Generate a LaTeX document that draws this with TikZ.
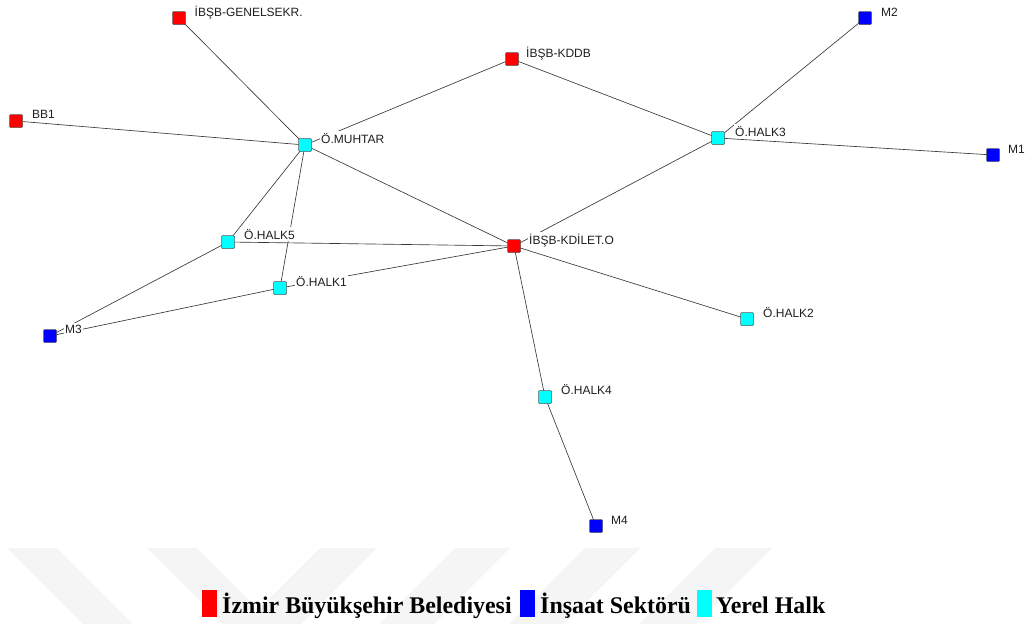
\documentclass[tikz,border=0pt]{standalone}
\usepackage{fontspec}
\setmainfont{Liberation Serif}
\newfontfamily\lblfont{Liberation Sans}
\definecolor{aqua}{RGB}{0,255,255}
\definecolor{pureblue}{RGB}{0,0,255}
\definecolor{purered}{RGB}{255,0,0}
\pgfdeclarelayer{wmlayer}
\pgfdeclarelayer{edgelayer}
\pgfsetlayers{wmlayer,edgelayer,main}
\begin{document}
\begin{tikzpicture}[x=1pt,y=-1pt,
  nd/.style={draw=black!65, line width=0.5pt, minimum size=13pt, inner sep=0pt, rounded corners=1pt},
  ibb/.style={nd, fill=purered},
  ins/.style={nd, fill=pureblue},
  yer/.style={nd, fill=aqua},
  lbl/.style={anchor=base west, fill=white, inner sep=1.5pt, font=\lblfont\fontsize{12}{13}\selectfont, text=black!88},
  link/.style={draw=black!78, line width=0.65pt},
  wm/.style={fill=black!4, draw=none},
  leg/.style={font=\bfseries\fontsize{23.9}{26}\selectfont, anchor=base west, inner sep=0pt},
  legbox/.style={minimum width=15pt, minimum height=27pt, inner sep=0pt, anchor=north west, draw=none}
]
\useasboundingbox (0,0) rectangle (1030,624);

% nodes
\node[ibb] (gs)   at (179,18)  {};
\node[ibb] (bb1)  at (16,121)  {};
\node[yer] (muh)  at (305,145) {};
\node[ibb] (kddb) at (512,59)  {};
\node[ins] (m2)   at (865,18)  {};
\node[yer] (h3)   at (718,138) {};
\node[ins] (m1)   at (993,155) {};
\node[yer] (h5)   at (228,242) {};
\node[ibb] (kd)   at (514,246) {};
\node[yer] (h1)   at (280,288) {};
\node[ins] (m3)   at (50,336)  {};
\node[yer] (h2)   at (747,319) {};
\node[yer] (h4)   at (545,397) {};
\node[ins] (m4)   at (596,526) {};

% labels
\node[lbl] (lgs)   at (193,16.5)  {İBŞB-GENELSEKR.};
\node[lbl] (lbb1)  at (30.5,118)  {BB1};
\node[lbl] (lmuh)  at (319.5,143) {Ö.MUHTAR};
\node[lbl] (lkddb) at (524.5,57)  {İBŞB-KDDB};
\node[lbl] (lm2)   at (879.5,16)  {M2};
\node[lbl] (lh3)   at (733.5,136) {Ö.HALK3};
\node[lbl] (lm1)   at (1006.5,153) {M1};
\node[lbl] (lh5)   at (242.5,239) {Ö.HALK5};
\node[lbl] (lkd)   at (527.5,244) {İBŞB-KDİLET.O};
\node[lbl] (lh1)   at (294.5,286) {Ö.HALK1};
\node[lbl] (lm3)   at (63.5,333)  {M3};
\node[lbl] (lh2)   at (761.5,317) {Ö.HALK2};
\node[lbl] (lh4)   at (559.5,394) {Ö.HALK4};
\node[lbl] (lm4)   at (609.5,524) {M4};

% edges
\begin{pgfonlayer}{edgelayer}
\draw[link] (gs.center) -- (muh.center);
\draw[link] (bb1.center) -- (muh.center);
\draw[link] (kddb.center) -- (muh.center);
\draw[link] (kddb.center) -- (h3.center);
\draw[link] (m2.center) -- (h3.center);
\draw[link] (h3.center) -- (m1.center);
\draw[link] (h3.center) -- (kd.center);
\draw[link] (muh.center) -- (kd.center);
\draw[link] (muh.center) -- (h5.center);
\draw[link] (muh.center) -- (h1.center);
\draw[link] (h5.center) -- (kd.center);
\draw[link] (h1.center) -- (kd.center);
\draw[link] (h5.center) -- (m3.center);
\draw[link] (h1.center) -- (m3.center);
\draw[link] (kd.center) -- (h2.center);
\draw[link] (kd.center) -- (h4.center);
\draw[link] (h4.center) -- (m4.center);
\end{pgfonlayer}

% watermark
\begin{pgfonlayer}{wmlayer}
\fill[wm] (7,548) -- (57,548) -- (133,624) -- (83,624) -- cycle;
\fill[wm] (147,548) -- (197,548) -- (273,624) -- (223,624) -- cycle;
\fill[wm] (320,548) -- (377,548) -- (301,624) -- (244,624) -- cycle;
\fill[wm] (455,548) -- (510,548) -- (434,624) -- (379,624) -- cycle;
\fill[wm] (585,548) -- (640,548) -- (564,624) -- (509,624) -- cycle;
\fill[wm] (715,548) -- (772,548) -- (696,624) -- (639,624) -- cycle;
\end{pgfonlayer}

% legend
\node[legbox, fill=purered]  (kr) at (202,590) {};
\node[leg] (tr) at (222,613.5) {İzmir Büyükşehir Belediyesi};
\node[legbox, fill=pureblue] (kb) at (520,590) {};
\node[leg] (tb) at (540,613.5) {İnşaat Sektörü};
\node[legbox, fill=aqua] (kc) at (697,590) {};
\node[leg] (tc) at (716,613.5) {Yerel Halk};
\end{tikzpicture}
\end{document}
